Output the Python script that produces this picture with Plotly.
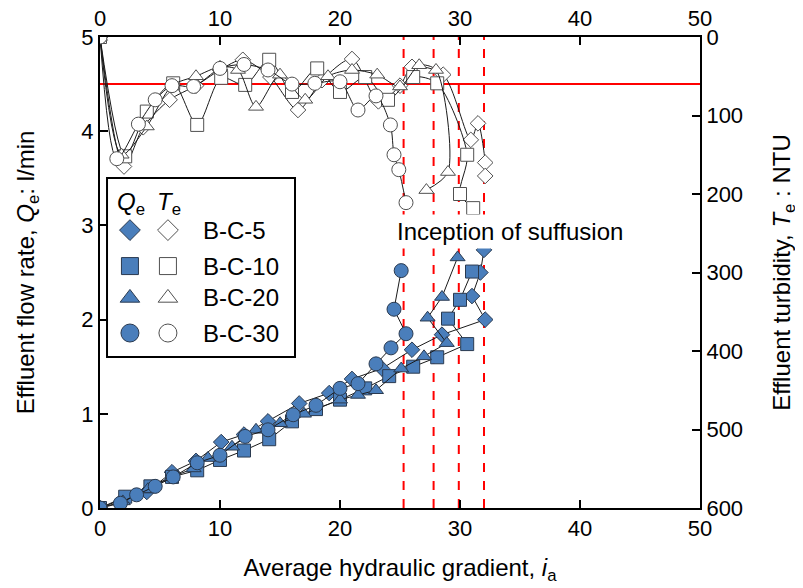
import plotly.graph_objects as go

# ---------------- data ----------------
series_names = ["B-C-5", "B-C-10", "B-C-20", "B-C-30"]
series_symbols = ["diamond", "square", "triangle-up", "circle"]

# Effluent flow rate Qe (l/min) vs average hydraulic gradient ia
q_x_bc5 = [0, 2.0, 3.9, 6.0, 8.0, 10.1, 12.0, 14.0, 16.6, 19.1, 21.0, 23.5, 26.0, 28.5, 32.1, 31.0, 31.7, 32.0]
q_bc5 = [0, 0.10, 0.17, 0.38, 0.50, 0.70, 0.78, 0.92, 1.11, 1.22, 1.37, 1.48, 1.68, 1.84, 2.00, 2.25, 2.50, 2.74]

q_x_bc10 = [0, 2.1, 4.2, 6.0, 8.1, 10.0, 12.0, 14.1, 16.0, 18.0, 20.0, 22.1, 24.1, 26.1, 28.1, 30.6, 29.0, 30.0, 31.0]
q_bc10 = [0, 0.12, 0.23, 0.33, 0.40, 0.51, 0.61, 0.73, 0.92, 1.05, 1.15, 1.27, 1.40, 1.50, 1.60, 1.74, 2.01, 2.21, 2.51]

q_x_bc20 = [0, 1.9, 4.0, 6.0, 7.8, 9.0, 11.0, 13.0, 15.0, 17.0, 20.0, 21.5, 23.0, 25.1, 27.0, 28.9, 27.3, 28.5, 29.8]
q_bc20 = [0, 0.07, 0.20, 0.33, 0.42, 0.53, 0.65, 0.83, 0.90, 1.00, 1.15, 1.20, 1.25, 1.48, 1.61, 1.75, 2.02, 2.24, 2.66]

q_x_bc30 = [0, 1.7, 3.05, 4.6, 6.1, 8.1, 10.0, 12.1, 14.0, 16.1, 18.0, 20.0, 21.5, 23.0, 24.25, 25.5, 24.5, 25.1]
q_bc30 = [0, 0.05, 0.14, 0.23, 0.33, 0.48, 0.56, 0.76, 0.83, 0.99, 1.09, 1.27, 1.32, 1.53, 1.70, 1.85, 2.11, 2.52]

# Effluent turbidity Te (NTU) vs average hydraulic gradient ia
t_x_bc5 = [0, 2.0, 3.6, 5.8, 8.0, 10.0, 11.9, 14.2, 16.5, 18.5, 21.0, 23.2, 25.0, 26.0, 28.6, 30.9, 31.5, 32.1, 32.1]
t_bc5 = [0, 165, 115, 80, 62, 42, 29, 51, 93, 55, 28, 82, 62, 38, 48, 131, 110, 160, 177]

t_x_bc10 = [0, 2.1, 3.9, 6.1, 8.1, 10.1, 12.1, 14.1, 16.0, 18.1, 20.0, 22.1, 24.0, 26.1, 28.1, 30.6, 30.0, 31.1]
t_bc10 = [0, 152, 95, 59, 112, 52, 61, 29, 70, 40, 70, 51, 80, 51, 59, 150, 200, 218]

t_x_bc20 = [0, 1.8, 3.9, 6.0, 8.0, 10.0, 11.5, 13.0, 15.0, 17.1, 19.0, 21.0, 23.1, 25.0, 26.6, 28.0, 29.0, 27.2]
t_bc20 = [0, 150, 114, 62, 50, 38, 42, 89, 48, 80, 50, 42, 48, 63, 36, 42, 172, 195]

t_x_bc30 = [0, 1.4, 3.2, 4.6, 6.0, 7.8, 10.0, 12.0, 14.0, 16.0, 17.9, 20.0, 21.5, 23.0, 24.2, 24.5, 24.9, 25.5]
t_bc30 = [0, 155, 111, 80, 62, 63, 40, 35, 42, 60, 59, 57, 93, 75, 112, 150, 169, 211]

inception_gradients = [25.3, 27.8, 29.9, 32.0]
turbidity_limit = 60

x_ticks = [0, 10, 20, 30, 40, 50]
q_ticks = [0, 1, 2, 3, 4, 5]
t_ticks = [0, 100, 200, 300, 400, 500, 600]

# ---------------- styles ----------------
FONT = "Liberation Sans, Arial, sans-serif"
BLUE = "#4a7ebb"
EDGE = "#2a3a50"
OPEN_EDGE = "#505050"
q_sizes = [12, 13, 13, 14]
t_sizes = [12, 13, 13, 14]

q_sets = [(q_x_bc5, q_bc5), (q_x_bc10, q_bc10), (q_x_bc20, q_bc20), (q_x_bc30, q_bc30)]
t_sets = [(t_x_bc5, t_bc5), (t_x_bc10, t_bc10), (t_x_bc20, t_bc20), (t_x_bc30, t_bc30)]

fig = go.Figure()

for (xs, ys), sym, sz in zip(t_sets, series_symbols, t_sizes):
    fig.add_trace(go.Scatter(
        x=xs, y=ys, xaxis="x2", yaxis="y2", mode="lines+markers",
        line=dict(color="#1a1a1a", width=1, shape="spline", smoothing=0.8),
        marker=dict(symbol=sym, size=sz, color="white",
                    line=dict(color=OPEN_EDGE, width=1)),
        showlegend=False, hoverinfo="skip"))

for (xs, ys), sym, sz in zip(q_sets, series_symbols, q_sizes):
    fig.add_trace(go.Scatter(
        x=xs, y=ys, xaxis="x", yaxis="y", mode="lines+markers",
        line=dict(color="#1a1a1a", width=1),
        marker=dict(symbol=sym, size=sz, color=BLUE,
                    line=dict(color=EDGE, width=1)),
        showlegend=False, hoverinfo="skip"))

# ---------------- custom legend (subplot 3) ----------------
leg_rows_y = [0.709, 0.508, 0.33, 0.134]
leg_sizes = [16, 17, 17, 18]
for yy, sym, sz in zip(leg_rows_y, series_symbols, leg_sizes):
    fig.add_trace(go.Scatter(x=[0.122], y=[yy], xaxis="x3", yaxis="y3", mode="markers",
                             marker=dict(symbol=sym, size=sz, color=BLUE, line=dict(color=EDGE, width=1)),
                             showlegend=False, hoverinfo="skip"))
    fig.add_trace(go.Scatter(x=[0.324], y=[yy], xaxis="x3", yaxis="y3", mode="markers",
                             marker=dict(symbol=sym, size=sz, color="white", line=dict(color=OPEN_EDGE, width=1)),
                             showlegend=False, hoverinfo="skip"))

annotations = []
for yy, name in zip(leg_rows_y, series_names):
    annotations.append(dict(x=0.50, y=yy, xref="x3", yref="y3", text=name, showarrow=False,
                            xanchor="left", yanchor="middle", font=dict(size=24, color="black", family=FONT)))
annotations.append(dict(x=0.125, y=0.86, xref="x3", yref="y3", text="<i>Q</i><sub>e</sub>",
                        showarrow=False, font=dict(size=24, color="black", family=FONT)))
annotations.append(dict(x=0.33, y=0.86, xref="x3", yref="y3", text="<i>T</i><sub>e</sub>",
                        showarrow=False, font=dict(size=24, color="black", family=FONT)))
annotations.append(dict(x=34.2, y=2.93, xref="x", yref="y", text="Inception of suffusion",
                        showarrow=False, bgcolor="white", borderpad=3,
                        font=dict(size=24, color="black", family=FONT)))

shapes = []
for g in inception_gradients:
    shapes.append(dict(type="line", xref="x", yref="paper", x0=g, x1=g, y0=0, y1=1,
                       line=dict(color="#ff0000", width=2, dash="dash"), layer="below"))
shapes.append(dict(type="line", xref="paper", yref="y2", x0=0, x1=1, y0=turbidity_limit, y1=turbidity_limit,
                   line=dict(color="#ff0000", width=2), layer="below"))
shapes.append(dict(type="rect", xref="paper", yref="paper", x0=0.0117, x1=0.325, y0=0.3206, y1=0.7006,
                   line=dict(color="black", width=2), fillcolor="rgba(0,0,0,0)", layer="above"))

axis_common = dict(showline=True, linecolor="black", linewidth=2, ticks="inside", ticklen=8,
                   tickwidth=2, tickcolor="black", showgrid=False, zeroline=False, automargin=False,
                   tickfont=dict(size=22, color="black", family=FONT))

fig.update_layout(
    width=795, height=580,
    margin=dict(l=92, r=103, t=29, b=80),
    paper_bgcolor="white", plot_bgcolor="white",
    font=dict(family=FONT, color="black"),
    xaxis=dict(range=[0, 50], tickvals=x_ticks, anchor="y",
               title=dict(text="Average hydraulic gradient, <i>i</i><sub>a</sub>",
                          font=dict(size=24, family=FONT), standoff=19), **axis_common),
    xaxis2=dict(range=[0, 50], tickvals=x_ticks, overlaying="x", side="top", anchor="y2", **axis_common),
    yaxis=dict(range=[0, 5], tickvals=q_ticks, anchor="x",
               title=dict(text="Effluent flow rate, <i>Q</i><sub>e</sub>: l/min",
                          font=dict(size=24, family=FONT), standoff=40), **axis_common),
    yaxis2=dict(range=[600, 0], tickvals=t_ticks, overlaying="y", side="right", anchor="x2",
                title=dict(text="Effluent turbidity, <i>T</i><sub>e</sub> : NTU",
                           font=dict(size=24, family=FONT), standoff=31), **axis_common),
    xaxis3=dict(domain=[0.0117, 0.325], range=[0, 1], visible=False, anchor="y3", fixedrange=True),
    yaxis3=dict(domain=[0.3206, 0.7006], range=[0, 1], visible=False, anchor="x3", fixedrange=True),
    annotations=annotations,
    shapes=shapes,
)

fig.write_html("out.html")
